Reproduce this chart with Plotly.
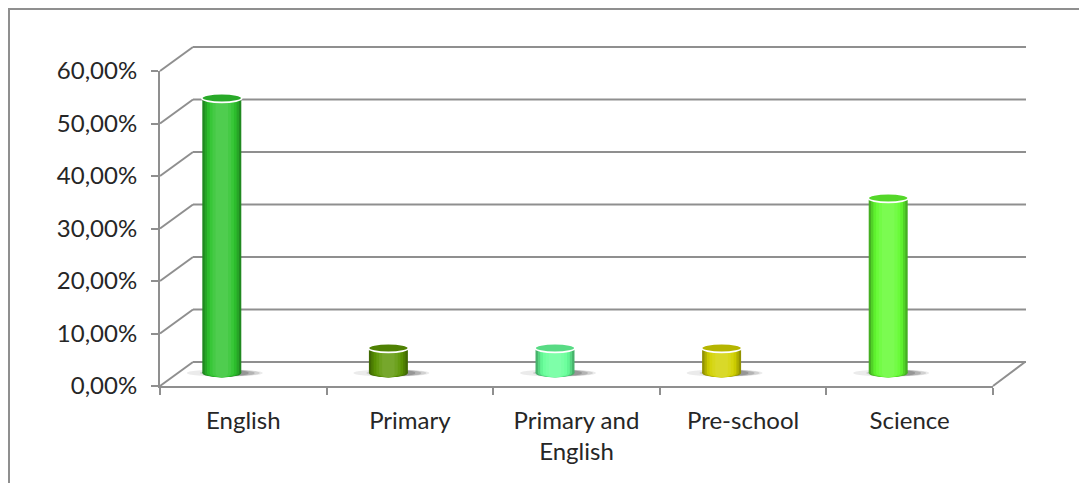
import plotly.graph_objects as go

# Share of respondents by subject area (percent)
categories = ["English", "Primary", "Primary and<br>English", "Pre-school", "Science"]
shares = [52.38, 4.76, 4.76, 4.76, 33.33]
bar_colors = ["#2ec42e", "#5c9604", "#66ff99", "#d2d200", "#62fa30"]
y_ticks = [0, 10, 20, 30, 40, 50, 60]
y_tick_text = [f"{v:.2f}".replace(".", ",") + "%" for v in y_ticks]

W, H = 1079, 483
GRID = "#8f8f8f"
TEXT = "#262626"
FONT = "Lato"

# Box geometry in pixels: front value plane, mid plane (cylinders), back wall
FRONT_LEFT, FRONT_RIGHT = 160, 993
FRONT_ZERO, FRONT_TOP = 386, 71
MID_ZERO, MID_SHIFT = 373, -21.5
BACK_ZERO = 362
DEPTH_X = 33
PX_PER_UNIT = (FRONT_ZERO - FRONT_TOP) / 60


def mix(c1, c2, t):
    a = [int(c1[i:i + 2], 16) for i in (1, 3, 5)]
    b = [int(c2[i:i + 2], 16) for i in (1, 3, 5)]
    return "#" + "".join(f"{round(x + (y - x) * t):02x}" for x, y in zip(a, b))


def shade_of(c, s):
    return mix(c, "#000000", -s) if s < 0 else mix(c, "#ffffff", s)


def px_x(p):
    return p / W


def px_y(p):
    # pixel row measured from the top -> paper fraction from the bottom
    return (H - p) / H


fig = go.Figure()

# Front plane carries the visible value and category axes
fig.add_trace(go.Scatter(x=[], y=[], xaxis="x", yaxis="y", mode="markers",
                         hoverinfo="skip", showlegend=False))

# Cylinder bodies: nested bars, lighter towards the middle, give the round shading
bar_width = 0.234
layers = [(1.00, -0.30), (0.88, -0.16), (0.76, -0.04), (0.62, 0.05), (0.48, 0.11), (0.32, 0.16)]
for frac, s in layers:
    fig.add_trace(go.Bar(
        x=list(range(len(categories))), y=shares,
        width=bar_width * frac,
        marker=dict(color=[shade_of(c, s) for c in bar_colors], line=dict(width=0)),
        xaxis="x3", yaxis="y3", hoverinfo="skip", showlegend=False,
    ))

shapes = []

# Outer chart border
shapes.append(dict(type="rect", xref="paper", yref="paper",
                   x0=px_x(9), x1=1.05, y0=-0.05, y1=px_y(9),
                   line=dict(color=GRID, width=2), fillcolor="rgba(0,0,0,0)", layer="below"))

front_dy = -(FRONT_ZERO - MID_ZERO)   # front plane sits below the mid plane
back_dy = MID_ZERO - BACK_ZERO        # back wall sits above it
back_len = FRONT_RIGHT - FRONT_LEFT
for v in y_ticks:
    # side wall: depth line from the front value axis to the back wall
    shapes.append(dict(type="line", xref="paper", yref="y3",
                       xsizemode="pixel", ysizemode="pixel",
                       xanchor=px_x(FRONT_LEFT), yanchor=v,
                       x0=0, y0=front_dy, x1=DEPTH_X, y1=back_dy,
                       line=dict(color=GRID, width=2), layer="below"))
    # back wall gridline at the same value
    shapes.append(dict(type="line", xref="paper", yref="y3",
                       xsizemode="pixel", ysizemode="pixel",
                       xanchor=px_x(FRONT_LEFT), yanchor=v,
                       x0=DEPTH_X, y0=back_dy, x1=DEPTH_X + back_len, y1=back_dy,
                       line=dict(color=GRID, width=2), layer="below"))
# Floor: right-hand depth edge
shapes.append(dict(type="line", xref="paper", yref="y3",
                   xsizemode="pixel", ysizemode="pixel",
                   xanchor=px_x(FRONT_RIGHT), yanchor=0,
                   x0=0, y0=front_dy, x1=DEPTH_X - 1, y1=back_dy,
                   line=dict(color=GRID, width=2), layer="below"))

half_w = 19.5
shadow_layers = [(3, 38, 3.6, 0.10), (8, 30, 3.3, 0.14), (13, 20, 3.0, 0.20), (17, 10, 2.6, 0.24)]
for i, (val, c) in enumerate(zip(shares, bar_colors)):
    # soft floor shadow, heaviest just right of each cylinder
    for off, sw, sh, op in shadow_layers:
        shapes.append(dict(type="circle", xref="x3", yref="y3",
                           xsizemode="pixel", ysizemode="pixel",
                           xanchor=i, yanchor=0,
                           x0=off - sw, x1=off + sw, y0=-sh, y1=sh,
                           fillcolor=f"rgba(60,60,60,{op})", line=dict(width=0),
                           layer="between"))
    # rounded bottom of the cylinder
    for frac, s in layers:
        shapes.append(dict(type="circle", xref="x3", yref="y3",
                           xsizemode="pixel", ysizemode="pixel",
                           xanchor=i, yanchor=0,
                           x0=-half_w * frac, x1=half_w * frac, y0=-4.3, y1=4.3,
                           fillcolor=shade_of(c, s), line=dict(width=0), layer="between"))
    # top face of the cylinder
    shapes.append(dict(type="circle", xref="x3", yref="y3",
                       xsizemode="pixel", ysizemode="pixel",
                       xanchor=i, yanchor=val,
                       x0=-half_w - 0.5, x1=half_w + 0.5, y0=-4.4, y1=4.4,
                       fillcolor=mix(c, "#000000", 0.14),
                       line=dict(color="#ffffff", width=1.6), layer="above"))

axis_font = dict(family=FONT, size=24, color=TEXT)

fig.update_layout(
    width=W, height=H,
    autosize=False,
    margin=dict(l=0, r=0, t=0, b=0, pad=0, autoexpand=False),
    paper_bgcolor="#ffffff", plot_bgcolor="rgba(0,0,0,0)",
    barmode="overlay",
    showlegend=False,
    shapes=shapes,
    # front plane: value axis and category axis
    xaxis=dict(domain=[px_x(FRONT_LEFT), px_x(FRONT_RIGHT)], anchor="y", type="category",
               tickmode="array", tickvals=list(range(len(categories))), ticktext=categories,
               range=[-0.5, len(categories) - 0.5], automargin=False,
               showline=True, linecolor=GRID, linewidth=2,
               ticks="outside", tickson="boundaries", ticklen=7, tickwidth=2, tickcolor=GRID,
               ticklabelstandoff=12,
               showgrid=False, zeroline=False, tickfont=axis_font, fixedrange=True),
    yaxis=dict(domain=[px_y(FRONT_ZERO), px_y(FRONT_TOP)], anchor="x", range=[0, 60],
               tickmode="array", tickvals=y_ticks, ticktext=y_tick_text, automargin=False,
               showline=True, linecolor=GRID, linewidth=2,
               ticks="outside", ticklen=7, tickwidth=2, tickcolor=GRID,
               ticklabelstandoff=9,
               showgrid=False, zeroline=False, tickfont=axis_font, fixedrange=True),
    # mid-depth plane holding the cylinders (full height, same value scale)
    xaxis3=dict(domain=[px_x(FRONT_LEFT + MID_SHIFT), px_x(FRONT_RIGHT + MID_SHIFT)],
                anchor="y3", type="linear",
                range=[-0.5, len(categories) - 0.5], visible=False, fixedrange=True,
                automargin=False),
    yaxis3=dict(domain=[0, 1], anchor="x3",
                range=[-(H - MID_ZERO) / PX_PER_UNIT, MID_ZERO / PX_PER_UNIT],
                visible=False, fixedrange=True, automargin=False),
)

fig.write_html("out.html", config={"displayModeBar": False})
